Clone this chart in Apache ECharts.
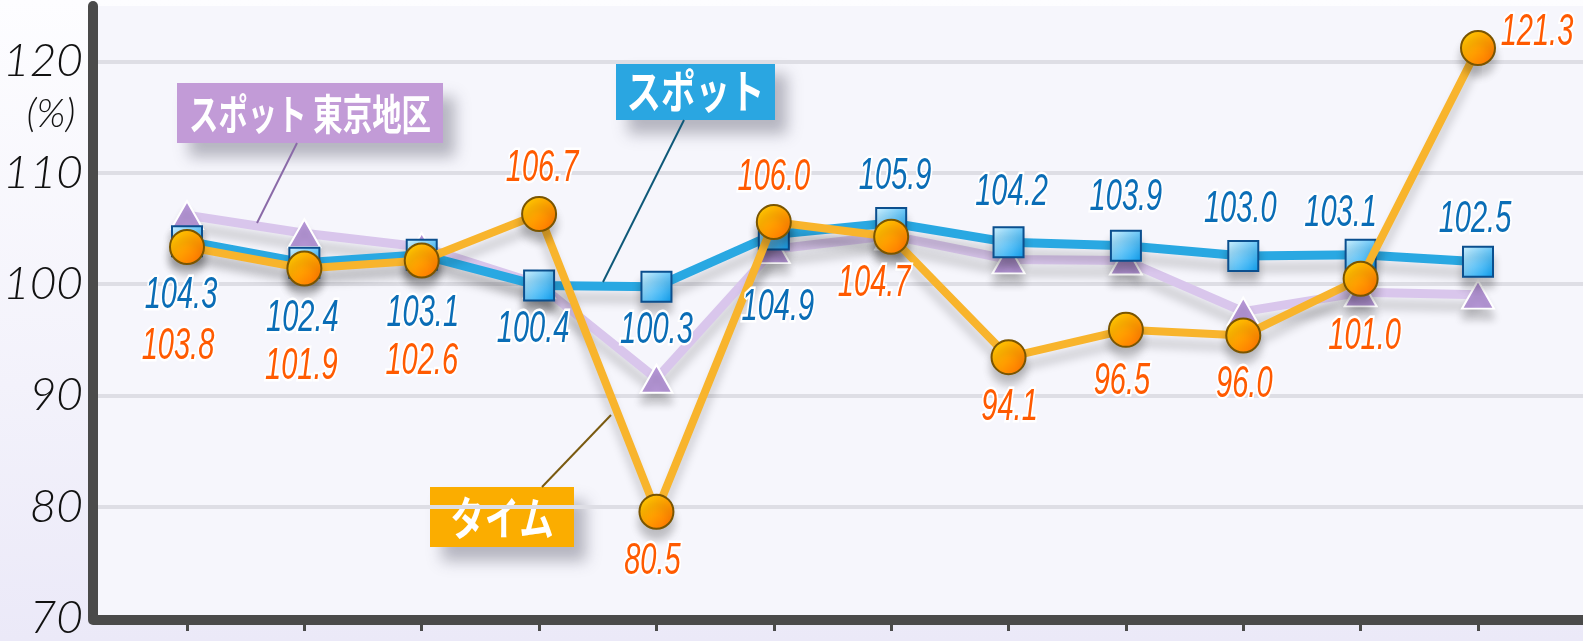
<!DOCTYPE html>
<html><head><meta charset="utf-8">
<script src="https://cdn.jsdelivr.net/npm/echarts@6/dist/echarts.min.js"></script>
<style>
html,body{margin:0;padding:0;width:1583px;height:641px;overflow:hidden;background:linear-gradient(180deg,#fdfdff 0%,#f3f2fb 60%,#ebe9f8 100%);}
#c{width:1583px;height:641px;}
</style>
</head><body><div id="c"></div>
<script>
// ---- data ----
const categories = ['1', '2', '3', '4', '5', '6', '7', '8', '9', '10', '11', '12'];
const spot = [104.3, 102.4, 103.1, 100.4, 100.3, 104.9, 105.9, 104.2, 103.9, 103.0, 103.1, 102.5];
const spotTokyo = [106.6, 105.0, 103.8, 100.5, 92.2, 103.6, 104.8, 102.7, 102.6, 98.1, 99.8, 99.6];
const timeVals = [103.8, 101.9, 102.6, 106.7, 80.5, 106.0, 104.7, 94.1, 96.5, 96.0, 101.0, 121.3];
const yMin = 70, yMax = 125, yStep = 10;
const seriesNames = ['スポット 東京地区', 'スポット', 'タイム'];

// ---- label placement (layout only) ----
const spotLabelOffsets = [[-6,55],[-2,56],[1,59],[-6,44],[0,44],[4,73],[4,-46],[3,-50],[0,-48],[-3,-46],[-20,-41],[-3,-42]];
const timeLabelOffsets = [[-9,100],[-3,98],[0,101],[3,-45],[-4,50],[0,-44],[-17,47],[1,51],[-4,52],[1,49],[4,58],[59,-15]];

const labelFont = "italic 44px 'Liberation Sans', Arial, sans-serif";

function labelSeries(vals, offs, color) {
  return {
    type: 'custom', xAxisIndex: 1, yAxisIndex: 1, z: 10, silent: true,
    data: vals.map((v, i) => [categories[i], v]),
    renderItem: (params, api) => {
      const i = params.dataIndex;
      const v = api.value(1);
      const pt = api.coord([api.value(0), v]);
      return {
        type: 'text', x: pt[0] + offs[i][0], y: pt[1] + offs[i][1], scaleX: 0.66,
        style: {text: Number(v).toFixed(1), fill: color, stroke: '#fff', lineWidth: 5, strokeFirst: true,
                font: labelFont, align: 'center', verticalAlign: 'middle'}
      };
    }
  };
}

const chart = echarts.init(document.getElementById('c'), null, {renderer: 'canvas'});
const gridTop = 6, gridBottom = 10;

function box(x, y, w, h, fill, text, fs, sx) {
  return {
    type: 'group', z: 100,
    children: [
      {type: 'rect', shape: {x: x, y: y, width: w, height: h},
       style: {fill: fill, shadowColor: 'rgba(60,60,80,0.35)', shadowBlur: 14, shadowOffsetX: 12, shadowOffsetY: 14}},
      {type: 'text', x: x + w / 2, y: y + h / 2 + 1, scaleX: sx,
       style: {text: text, fill: '#fff', font: 'bold ' + fs + 'px "Noto Sans CJK JP", sans-serif',
               textAlign: 'center', textVerticalAlign: 'middle'}}
    ]
  };
}

const option = {
  animation: false,
  grid: [
    {left: 92, right: 0, top: gridTop, bottom: gridBottom, show: true, backgroundColor: '#f6f6fc', borderWidth: 0},
    {left: 187, right: 105, top: gridTop, bottom: gridBottom}
  ],
  xAxis: [
    {gridIndex: 0, type: 'value', min: 0, max: 1, offset: 2,
     axisLine: {show: true, onZero: false, lineStyle: {color: '#4a4a4a', width: 10}},
     axisTick: {show: false}, axisLabel: {show: false}, splitLine: {show: false}},
    {gridIndex: 1, type: 'category', data: categories, boundaryGap: false,
     axisLine: {show: false},
     axisTick: {show: true, inside: true, length: 13, lineStyle: {color: '#4a4a4a', width: 3}},
     axisLabel: {show: false}, splitLine: {show: false}}
  ],
  yAxis: [
    {gridIndex: 0, type: 'value', min: yMin, max: yMax, interval: yStep,
     axisLine: {show: true, onZero: false, lineStyle: {color: '#4a4a4a', width: 10}},
     axisTick: {show: false},
     axisLabel: {margin: 10, fontSize: 46, fontStyle: 'italic', fontWeight: 300, fontFamily: 'Lato, "Open Sans", sans-serif', color: '#111',
                 formatter: v => (v % yStep === 0 ? String(v) : '')},
     splitLine: {show: true, showMinLine: false, showMaxLine: false, lineStyle: {color: '#dedee5', width: 4}}},
    {gridIndex: 1, type: 'value', min: yMin, max: yMax, show: false, splitLine: {show: false}}
  ],
  series: [
    {
      name: seriesNames[0], type: 'line', xAxisIndex: 1, yAxisIndex: 1, z: 2,
      data: spotTokyo,
      symbol: 'triangle', symbolSize: [32, 28],
      lineStyle: {color: '#d9c6ec', width: 9, shadowColor: 'rgba(0,0,0,0.18)', shadowBlur: 10, shadowOffsetY: 12},
      itemStyle: {color: '#b596d6', borderColor: '#fff', borderWidth: 2, shadowColor: 'rgba(0,0,0,0.2)', shadowBlur: 8, shadowOffsetY: 10},
      label: {show: false}
    },
    {
      name: seriesNames[1], type: 'line', xAxisIndex: 1, yAxisIndex: 1, z: 3,
      data: spot,
      symbol: 'rect', symbolSize: 30,
      lineStyle: {color: '#29a8e2', width: 9, shadowColor: 'rgba(0,0,0,0.18)', shadowBlur: 10, shadowOffsetY: 12},
      itemStyle: {
        color: new echarts.graphic.LinearGradient(0, 0, 1, 1, [{offset: 0, color: '#d2f3ff'}, {offset: 1, color: '#0a9ef0'}]),
        borderColor: '#0b4f8e', borderWidth: 2, shadowColor: 'rgba(0,0,0,0.22)', shadowBlur: 8, shadowOffsetY: 10
      }
    },
    {
      name: seriesNames[2], type: 'line', xAxisIndex: 1, yAxisIndex: 1, z: 4,
      data: timeVals,
      symbol: 'circle', symbolSize: 34,
      lineStyle: {color: '#f8b42c', width: 8, shadowColor: 'rgba(0,0,0,0.18)', shadowBlur: 10, shadowOffsetY: 12},
      itemStyle: {
        color: new echarts.graphic.LinearGradient(0, 0, 1, 1, [{offset: 0, color: '#ffd600'}, {offset: 1, color: '#ff6a00'}]),
        borderColor: '#7a5500', borderWidth: 2, shadowColor: 'rgba(0,0,0,0.22)', shadowBlur: 8, shadowOffsetY: 10
      }
    },
    labelSeries(spot, spotLabelOffsets, '#0a6db6'),
    labelSeries(timeVals, timeLabelOffsets, '#ff5a00')
  ],
  graphic: [
    {type: 'text', x: 51, y: 114, z: 50,
     style: {text: '(%)', fill: '#111', font: 'italic 300 40px Lato, "Open Sans", sans-serif', textAlign: 'center', textVerticalAlign: 'middle'}},
    {type: 'line', z: 90, shape: {x1: 297, y1: 143, x2: 257, y2: 223}, style: {stroke: '#8a6aa8', lineWidth: 2}},
    {type: 'line', z: 90, shape: {x1: 684, y1: 120, x2: 603, y2: 282}, style: {stroke: '#0d5878', lineWidth: 2}},
    {type: 'line', z: 90, shape: {x1: 542, y1: 487, x2: 611, y2: 415}, style: {stroke: '#7a5a10', lineWidth: 2}},
    box(177, 83, 266, 60, '#c29bd7', seriesNames[0], 42, 0.7),
    box(616, 60, 159, 60, '#2aa6e1', seriesNames[1], 46, 0.75),
    box(430, 487, 144, 60, '#fbad00', seriesNames[2], 46, 0.75)
  ]
};
chart.setOption(option);
</script>
</body></html>
